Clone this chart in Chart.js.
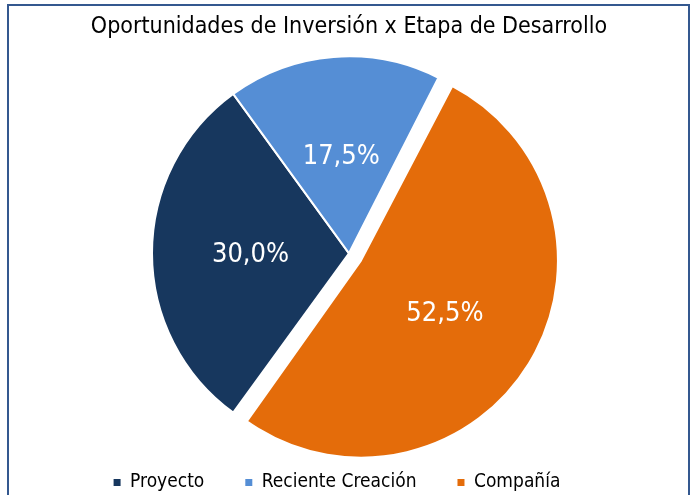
<!DOCTYPE html>
<html>
<head>
<meta charset="utf-8">
<script src="https://cdn.jsdelivr.net/npm/chart.js@4.4.1/dist/chart.umd.min.js"></script>
<style>
  html, body { margin: 0; padding: 0; background: #fff; overflow: hidden; }
  #wrap { position: relative; width: 695px; height: 495px; overflow: hidden; }
  #frame { position: absolute; left: 7px; top: 4px; width: 683px; height: 520px;
           border: 2px solid #34588f; box-sizing: border-box; pointer-events: none; }
  canvas { position: absolute; left: 0; top: 0; }
</style>
</head>
<body>
<div id="wrap">
  <canvas id="chart" width="695" height="495"></canvas>
  <div id="frame"></div>
</div>
<script>
// Oportunidades de inversión por etapa de desarrollo
const stages = ['Proyecto', 'Reciente Creación', 'Compañía'];
const shares = [30.0, 17.5, 52.5];
const stageColors = ['#17375e', '#558ed5', '#e46c0a'];
const exploded = [0, 0, 56];   // Compañía sale un poco del pie

const FONT = '"DejaVu Sans Condensed", "DejaVu Sans", sans-serif';
const PIE_R = 197;

function fmtPct(v) {
  return v.toFixed(1).replace('.', ',') + '%';
}

// Chart.js agranda el radio de los arcos > 180° al separarlos; lo compensamos
const keepRadius = {
  id: 'keepRadius',
  beforeDatasetsDraw(chart) {
    const meta = chart.getDatasetMeta(0);
    const base = meta.controller.outerRadius;
    meta.data.forEach((arc, i) => {
      const span = arc.endAngle - arc.startAngle;
      arc.outerRadius = span > Math.PI ? base - exploded[i] / 4 : base;
    });
  }
};

// la leyenda de Excel queda un poco a la izquierda del centro
const legendShift = {
  id: 'legendShift',
  afterLayout(chart) {
    chart.legend.left -= 12;
    chart.legend.right -= 12;
  }
};

const sliceLabels = {
  id: 'sliceLabels',
  afterDatasetsDraw(chart) {
    const meta = chart.getDatasetMeta(0);
    const base = meta.controller.outerRadius;
    const ctx = chart.ctx;
    ctx.save();
    ctx.font = '27px ' + FONT;
    ctx.fillStyle = '#ffffff';
    ctx.textAlign = 'center';
    ctx.textBaseline = 'middle';
    meta.data.forEach((arc, i) => {
      const mid = (arc.startAngle + arc.endAngle) / 2;
      const d = base * 0.5 + exploded[i] / 4;
      ctx.fillText(fmtPct(shares[i]), arc.x + Math.cos(mid) * d, arc.y + Math.sin(mid) * d + 2);
    });
    ctx.restore();
  }
};

new Chart(document.getElementById('chart'), {
  type: 'pie',
  data: {
    labels: stages,
    datasets: [{
      data: shares,
      backgroundColor: stageColors,
      borderColor: '#ffffff',
      borderWidth: 2,
      offset: exploded,
      clip: false
    }]
  },
  options: {
    responsive: false,
    animation: false,
    events: [],
    devicePixelRatio: 1,
    rotation: 216,
    radius: PIE_R,
    layout: { padding: { left: 3, right: 0, top: 0, bottom: -7 } },
    plugins: {
      title: {
        display: true,
        text: 'Oportunidades de Inversión x Etapa de Desarrollo',
        color: '#000000',
        font: { family: FONT, size: 23, weight: 'normal' },
        padding: { top: 13, bottom: 34 }
      },
      legend: {
        position: 'bottom',
        labels: {
          color: '#000000',
          font: { family: FONT, size: 19 },
          boxWidth: 7,
          boxHeight: 7,
          padding: 41,
          generateLabels(chart) {
            return Chart.overrides.pie.plugins.legend.labels.generateLabels(chart)
              .map(l => Object.assign(l, { lineWidth: 0 }));
          }
        }
      },
      tooltip: { enabled: false }
    }
  },
  plugins: [keepRadius, legendShift, sliceLabels]
});
</script>
</body>
</html>
